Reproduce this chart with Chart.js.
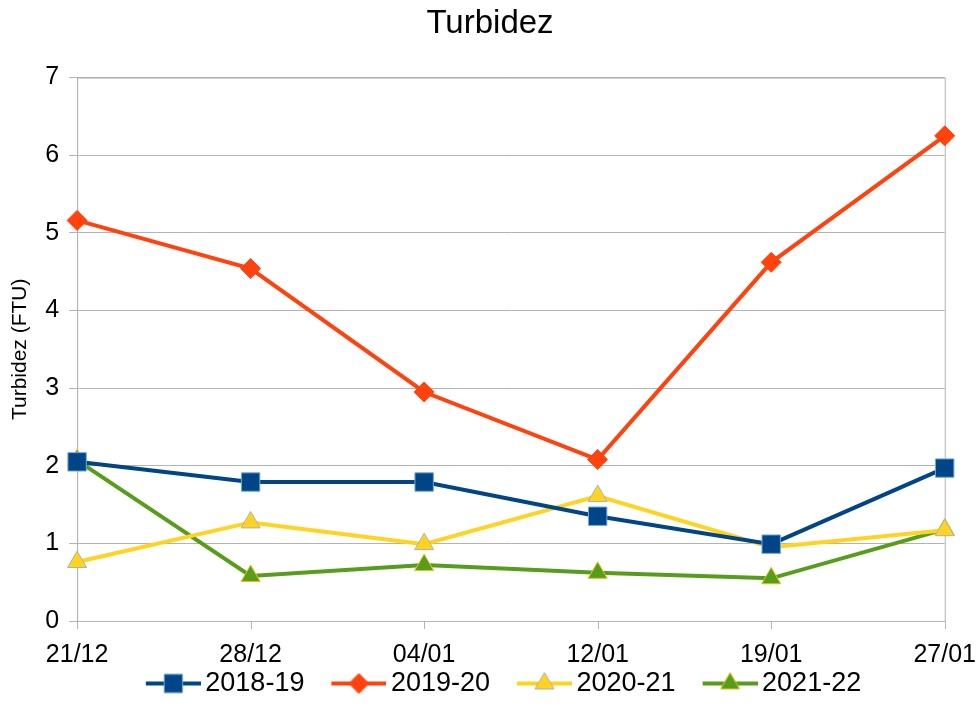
<!DOCTYPE html>
<html>
<head>
<meta charset="utf-8">
<script src="https://cdn.jsdelivr.net/npm/chart.js@4"></script>
<style>
  html, body { margin: 0; padding: 0; background: #fff; }
  #wrap { width: 976px; height: 722px; }
</style>
</head>
<body>
<div id="wrap"><canvas id="turbChart" width="976" height="722"></canvas></div>
<script>
// Data
const labels = ["21/12", "28/12", "04/01", "12/01", "19/01", "27/01"];
const s1819 = [2.05, 1.79, 1.79, 1.35, 0.99, 1.97];
const s1920 = [5.16, 4.54, 2.95, 2.08, 4.62, 6.25];
const s2021 = [0.76, 1.27, 0.99, 1.61, 0.95, 1.17];
const s2122 = [2.07, 0.58, 0.72, 0.62, 0.55, 1.18];
const seriesNames = ["2018-19", "2019-20", "2020-21", "2021-22"];

const FONT = "'Liberation Sans', Arial, sans-serif";

// colours per series
const styles = [
  { color: "#004586", edge: "#6fa8dc", shape: "rect", r: 13 },
  { color: "#ff420e", edge: "#ff420e", shape: "rectRot", r: 10 },
  { color: "#ffd320", edge: "#b0b0b0", shape: "triangle", r: 11 },
  { color: "#579d1c", edge: "#e6c21a", shape: "triangle", r: 11 }
];

// Legend icon: line + marker, with empty room on the left to space the items
const ICON_W = 91, LINE_W = 55;
function legendIcon(st) {
  const c = document.createElement("canvas");
  c.width = ICON_W; c.height = 26;
  const ctx = c.getContext("2d");
  const x0 = ICON_W - LINE_W;
  ctx.strokeStyle = st.color;
  ctx.lineWidth = 4;
  ctx.beginPath();
  ctx.moveTo(x0, 13); ctx.lineTo(ICON_W, 13);
  ctx.stroke();
  ctx.fillStyle = st.color;
  ctx.strokeStyle = st.edge;
  ctx.lineWidth = 1;
  Chart.helpers.drawPoint(ctx, { pointStyle: st.shape, radius: st.r, borderWidth: 1, rotation: 0 }, x0 + LINE_W / 2, 13);
  return c;
}

const seriesData = [s1819, s1920, s2021, s2122];
const icons = styles.map(legendIcon);

const datasets = seriesData.map((d, i) => ({
  label: seriesNames[i],
  data: d,
  borderColor: styles[i].color,
  backgroundColor: styles[i].color,
  borderWidth: 4,
  tension: 0,
  pointStyle: styles[i].shape,
  pointRadius: styles[i].r,
  pointHoverRadius: styles[i].r,
  pointBackgroundColor: styles[i].color,
  pointBorderColor: styles[i].edge,
  pointBorderWidth: 1
}));

// frame round the plot area and short tick marks under the x axis
const frame = {
  id: "frame",
  beforeDatasetsDraw(chart) {
    const a = chart.chartArea, ctx = chart.ctx;
    const xs = chart.scales.x;
    ctx.save();
    ctx.strokeStyle = "#b3b3b3";
    ctx.lineWidth = 1;
    ctx.strokeRect(a.left + 0.5, a.top + 0.5, a.right - a.left, a.bottom - a.top);
    ctx.beginPath();
    xs.ticks.forEach((t, i) => {
      const px = Math.round(xs.getPixelForTick(i)) + 0.5;
      ctx.moveTo(px, a.bottom);
      ctx.lineTo(px, a.bottom + 8);
    });
    ctx.stroke();
    ctx.restore();
  }
};

new Chart(document.getElementById("turbChart"), {
  type: "line",
  data: { labels, datasets },
  plugins: [frame],
  options: {
    responsive: false,
    animation: false,
    layout: { padding: { left: 4, right: 0, top: 2, bottom: 15 } },
    plugins: {
      title: {
        display: true,
        text: "Turbidez",
        color: "#000",
        font: { family: FONT, size: 33, weight: "normal" },
        padding: { top: 2, bottom: 34 }
      },
      legend: {
        position: "bottom",
        labels: {
          usePointStyle: true,
          pointStyleWidth: ICON_W - 18,
          color: "#000",
          font: { family: FONT, size: 27 },
          padding: 0,
          generateLabels(chart) {
            return chart.data.datasets.map((ds, i) => ({
              text: ds.label,
              pointStyle: icons[i],
              fillStyle: ds.borderColor,
              strokeStyle: ds.borderColor,
              lineWidth: 0,
              hidden: false,
              datasetIndex: i
            }));
          }
        }
      },
      tooltip: { enabled: false }
    },
    scales: {
      x: {
        offset: false,
        grid: { display: true, drawOnChartArea: false, tickLength: 19, tickColor: "rgba(0,0,0,0)" },
        border: { color: "#b3b3b3" },
        ticks: { color: "#000", font: { family: FONT, size: 25 }, maxRotation: 0, padding: 0 }
      },
      y: {
        min: 0,
        max: 7,
        ticks: { stepSize: 1, color: "#000", font: { family: FONT, size: 25 }, padding: 10 },
        grid: { color: "#b3b3b3", tickLength: 8 },
        border: { color: "#b3b3b3" },
        title: {
          display: true,
          text: "Turbidez (FTU)",
          color: "#000",
          font: { family: FONT, size: 21 },
          padding: { bottom: 2 }
        }
      }
    }
  }
});
</script>
</body>
</html>
